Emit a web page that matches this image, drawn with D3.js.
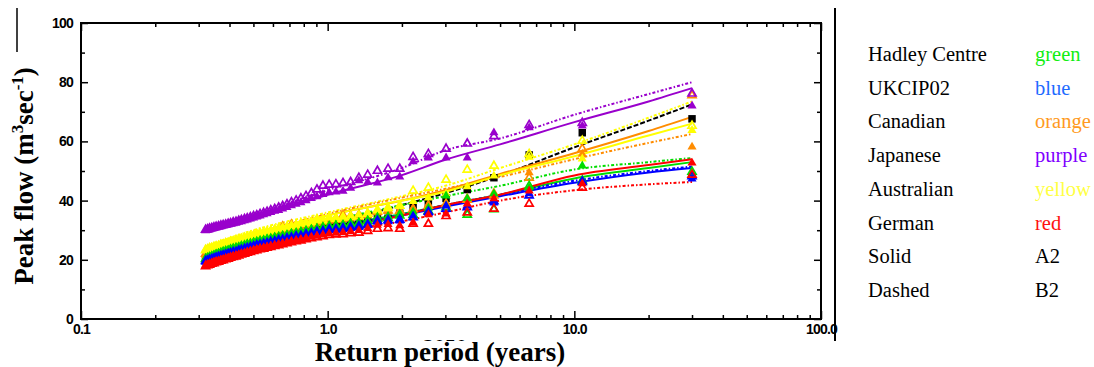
<!DOCTYPE html>
<html>
<head>
<meta charset="utf-8">
<script src="https://cdn.jsdelivr.net/npm/d3@7"></script>
<style>
  body { margin: 0; background: #fff; }
  .tick text { font-family: 'Liberation Sans', Arial, sans-serif; font-weight: bold; font-size: 14px; letter-spacing: -0.8px; fill: #000; }
  .tick line { stroke: #000; stroke-width: 1.5px; }
  .axis path.domain { display: none; }
</style>
</head>
<body>
<div id="chart"></div>
<script>
// return periods (years) of the ranked peaks
const returnPeriods = [30.0, 10.77, 6.56, 4.72, 3.68, 3.02, 2.56, 2.22, 1.96,
  1.757, 1.591, 1.453, 1.338, 1.239, 1.154, 1.080, 1.014,
  0.957, 0.905, 0.859, 0.817, 0.779, 0.745, 0.713, 0.684, 0.657, 0.633,
  0.610, 0.588, 0.568, 0.550, 0.532, 0.516, 0.501, 0.486, 0.472, 0.460,
  0.447, 0.436, 0.425, 0.414, 0.404, 0.395, 0.386, 0.377, 0.369, 0.361,
  0.353, 0.346, 0.339, 0.332, 0.326, 0.320];

// peak flows, A2 = filled triangles, B2 = open triangles
const baselinePeaks = [67.9, 63.2, 55.7, 48.0, 44.0, 41.0, 39.5, 38.0, 36.0,
  34.3, 34.1, 33.0, 32.3, 32.0, 31.6, 31.4, 31.2,
  30.8, 30.4, 30.0, 29.6, 29.2, 28.9, 28.6, 28.2, 27.9, 27.6,
  27.3, 27.0, 26.7, 26.4, 26.2, 25.9, 25.6, 25.3, 25.0, 24.7,
  24.4, 24.1, 23.8, 23.6, 23.3, 23.0, 22.8, 22.5, 22.3, 22.0,
  21.8, 21.6, 21.3, 21.1, 20.9, 20.7];
const orangeB2 = [75.8, 57.8, 48.0, 42.0, 40.5, 39.0, 38.5, 37.3, 36.8,
  36.9, 36.5, 35.8, 35.4, 35.0, 35.3, 34.2, 33.9,
  33.4, 33.1, 32.6, 32.4, 31.9, 31.7, 32.2, 31.0, 31.5, 30.3,
  30.0, 29.6, 29.3, 29.0, 28.6, 28.3, 28.0, 27.7, 27.3, 27.0,
  26.7, 26.4, 26.0, 25.8, 25.4, 25.1, 24.9, 24.5, 24.3, 24.0,
  23.7, 23.5, 23.1, 22.9, 22.6, 22.3];
const orangeA2 = [58.4, 56.0, 49.7, 43.0, 41.2, 39.5, 39.0, 37.8, 36.5,
  36.6, 36.2, 35.3, 34.6, 34.2, 33.9, 33.6, 33.3,
  32.9, 32.5, 32.1, 31.7, 31.3, 31.0, 30.6, 30.3, 29.9, 29.6,
  29.3, 29.0, 28.6, 28.3, 28.0, 27.7, 27.4, 27.0, 26.7, 26.4,
  26.1, 25.8, 25.4, 25.2, 24.8, 24.5, 24.3, 23.9, 23.7, 23.3,
  23.1, 22.9, 22.5, 22.3, 22.0, 21.7];
const yellowA2 = [64.0, 54.4, 55.0, 48.6, 45.0, 42.6, 41.2, 40.0, 38.6,
  37.5, 37.3, 36.2, 35.5, 35.2, 34.8, 34.6, 34.4,
  34.0, 33.6, 33.2, 32.8, 32.4, 32.1, 31.8, 31.4, 31.1, 30.8,
  30.5, 30.2, 29.9, 29.6, 29.4, 29.1, 28.8, 28.5, 28.2, 27.9,
  27.6, 27.3, 27.0, 26.8, 26.5, 26.2, 26.0, 25.7, 25.5, 25.2,
  25.0, 24.8, 24.5, 24.3, 24.1, 23.9];
const yellowB2 = [65.5, 60.5, 56.0, 52.0, 50.7, 47.3, 44.6, 43.6, 38.5,
  37.8, 37.0, 35.8, 35.0, 34.8, 34.5, 34.1, 34.6,
  33.5, 33.9, 32.9, 32.6, 32.5, 31.9, 31.6, 31.3, 30.9, 30.9,
  30.3, 30.0, 29.8, 29.3, 29.3, 28.9, 28.4, 28.3, 27.8, 27.7,
  27.2, 27.1, 26.9, 26.4, 26.3, 25.9, 25.8, 25.4, 25.3, 24.9,
  24.7, 24.6, 24.2, 24.1, 23.7, 23.5];
const greenA2 = [49.3, 52.0, 44.6, 42.6, 41.0, 41.9, 37.8, 36.5, 35.8,
  35.0, 34.8, 33.7, 33.0, 32.7, 32.3, 32.1, 31.9,
  31.5, 31.1, 30.7, 30.3, 29.9, 29.6, 29.3, 28.9, 28.6, 28.3,
  28.0, 27.7, 27.4, 27.1, 26.9, 26.6, 26.3, 26.0, 25.7, 25.4,
  25.1, 24.8, 24.5, 24.3, 24.0, 23.7, 23.5, 23.2, 22.9, 22.6,
  22.3, 22.0, 21.7, 21.4, 21.1, 20.8];
const greenB2 = [50.0, 47.0, 45.2, 37.3, 35.5, 38.0, 36.8, 35.5, 35.2,
  34.4, 34.1, 33.3, 32.4, 32.3, 31.7, 31.7, 31.3,
  31.0, 30.5, 30.3, 29.7, 29.5, 29.0, 28.9, 28.3, 28.2, 27.7,
  27.6, 27.1, 27.0, 26.5, 26.4, 26.0, 25.9, 25.4, 25.3, 24.8,
  24.7, 24.2, 24.1, 23.7, 23.6, 23.1, 23.0, 22.6, 22.4, 22.1,
  21.9, 21.5, 21.3, 21.0, 20.7, 20.5];
const blueA2 = [47.6, 47.0, 42.6, 39.5, 38.5, 38.5, 36.0, 35.0, 33.4,
  33.2, 33.0, 31.9, 31.2, 30.9, 30.5, 30.3, 30.1,
  29.7, 29.3, 28.9, 28.5, 28.1, 27.8, 27.5, 27.1, 26.8, 26.5,
  26.2, 25.9, 25.6, 25.3, 25.1, 24.8, 24.5, 24.2, 23.9, 23.6,
  23.3, 23.0, 22.7, 22.5, 22.2, 21.9, 21.7, 21.4, 21.2, 20.9,
  20.7, 20.5, 20.2, 20.0, 19.8, 19.5];
const blueB2 = [48.5, 46.5, 42.0, 40.0, 38.0, 37.5, 36.5, 34.6, 33.8,
  33.6, 33.4, 32.2, 31.6, 31.2, 30.9, 30.6, 30.5,
  30.0, 29.7, 29.2, 28.9, 28.4, 28.2, 27.8, 27.5, 27.1, 26.9,
  26.5, 26.3, 25.9, 25.7, 25.4, 25.2, 24.8, 24.6, 24.2, 24.0,
  23.6, 23.4, 23.0, 22.9, 22.5, 22.3, 22.0, 21.8, 21.5, 21.3,
  21.0, 20.8, 20.5, 20.3, 20.0, 19.8];
const redA2 = [53.0, 46.0, 43.6, 40.9, 39.2, 35.8, 35.5, 32.8, 31.8,
  32.2, 32.0, 30.9, 30.2, 29.9, 29.5, 29.3, 29.1,
  28.7, 28.3, 27.9, 27.5, 27.1, 26.8, 26.5, 26.1, 25.8, 25.5,
  25.2, 24.9, 24.6, 24.3, 24.1, 23.8, 23.5, 23.2, 22.9, 22.6,
  22.3, 22.0, 21.7, 21.5, 21.2, 20.9, 20.7, 20.4, 20.2, 19.9,
  19.7, 19.5, 19.2, 19.0, 18.8, 18.5];
const redB2 = [49.0, 44.6, 39.2, 37.5, 36.2, 35.0, 32.4, 32.4, 30.7,
  30.9, 30.7, 30.0, 29.4, 29.2, 28.9, 28.8, 28.6,
  28.2, 27.9, 27.5, 27.2, 26.8, 26.5, 26.2, 25.8, 25.5, 25.2,
  24.9, 24.6, 24.3, 24.0, 23.8, 23.5, 23.2, 22.9, 22.6, 22.3,
  22.0, 21.7, 21.4, 21.2, 20.9, 20.6, 20.4, 20.1, 19.9, 19.6,
  19.4, 19.1, 18.9, 18.6, 18.4, 18.1];
const purpleA2 = [72.3, 65.5, 64.9, 63.2, 54.7, 54.7, 54.7, 53.4, 48.3,
  48.0, 46.3, 46.5, 47.0, 44.5, 43.5, 43.2, 43.0,
  42.4, 41.6, 41.0, 40.3, 39.6, 39.1, 38.6, 38.0, 37.5, 37.0,
  36.7, 36.3, 35.9, 35.5, 35.1, 34.8, 34.4, 34.1, 33.8, 33.5,
  33.2, 33.0, 32.7, 32.5, 32.3, 32.1, 31.9, 31.7, 31.5, 31.3,
  31.1, 30.9, 30.7, 30.5, 30.3, 30.1];
const purpleB2 = [76.4, 66.5, 65.8, 62.0, 59.5, 57.8, 56.0, 55.0, 51.0,
  51.0, 50.3, 49.0, 48.0, 46.5, 46.2, 45.8, 45.6,
  45.3, 44.0, 42.8, 41.8, 41.0, 40.3, 39.7, 39.0, 38.4, 37.9,
  37.4, 37.0, 36.5, 36.1, 35.7, 35.3, 35.0, 34.6, 34.3, 34.0,
  33.7, 33.4, 33.1, 32.9, 32.6, 32.4, 32.2, 32.0, 31.8, 31.6,
  31.4, 31.2, 31.0, 30.8, 30.6, 30.4];

// fitted frequency curves
const fitPeriods = [0.32, 0.5, 1, 2, 3, 5, 10, 20, 30];
const purpleA2Fit = [30, 34, 42, 48.6, 53.8, 59, 66.5, 73.5, 78];
const purpleB2Fit = [30.5, 35, 43.5, 51, 57, 61, 69, 76, 80];
const yellowA2Fit = [24, 29, 35, 40, 43, 48.6, 55, 62, 66];
const yellowB2Fit = [24.5, 30, 36, 41.5, 45, 51, 59, 68, 73.5];
const orangeA2Fit = [22.5, 28, 35, 40, 43.5, 49, 56, 63.5, 68.3];
const orangeB2Fit = [22.5, 28.5, 35.5, 41, 44, 48, 54, 59.5, 62.5];
const greenA2Fit = [20.5, 25.5, 31, 35.5, 38.5, 42, 47.5, 51, 53];
const greenB2Fit = [21, 27, 33, 38.5, 41.5, 45, 50.5, 53, 54.4];
const blueA2Fit = [20, 25, 30.5, 35, 38, 41.5, 46, 49.5, 51];
const blueB2Fit = [20, 25, 30.5, 35.3, 38.5, 42, 46.7, 50, 51.5];
const redA2Fit = [19, 24.5, 30, 35, 38.5, 42, 48.5, 52, 54];
const redB2Fit = [18.5, 23.5, 29, 33, 36, 40, 43.5, 45.5, 46.3];
const baselineFit = [21, 26, 32, 38.5, 42.5, 48.5, 58, 67, 72.5];

const yTicks = [0, 20, 40, 60, 80, 100];
const xTicks = [0.1, 1, 10, 100];
const xTickLabels = ['0.1', '1.0', '10.0', '100.0'];
const legendNames = ['Hadley Centre', 'UKCIP02', 'Canadian', 'Japanese', 'Australian', 'German', 'Solid', 'Dashed'];
const legendKeys = ['green', 'blue', 'orange', 'purple', 'yellow', 'red', 'A2', 'B2'];

const col = {
  green: '#00dd00', blue: '#0000ff', orange: '#ff8c00',
  purple: '#9900cc', yellow: '#ffff00', red: '#ff0000', black: '#000'
};
const legendCol = ['#11ee11', '#1f6bff', '#ff9a22', '#7f00ff', '#ffff44', '#ff1111', '#000', '#000'];

const width = 1094;
const height = 367;
const plot = { left: 81, right: 821, top: 23, bottom: 319 };
const serif = "'Liberation Serif', 'Times New Roman', Times, serif";

const svg = d3.select('#chart')
  .append('svg')
  .attr('width', width)
  .attr('height', height);

const x = d3.scaleLog().domain([0.1, 100]).range([plot.left, plot.right]);
const y = d3.scaleLinear().domain([0, 100]).range([plot.bottom, plot.top]);

// fitted lines under the markers
const dots = '3,2,1.5,2';
const fits = [
  [purpleA2Fit, col.purple, null], [purpleB2Fit, col.purple, dots],
  [baselineFit, col.black, '5,2'],
  [yellowB2Fit, col.yellow, dots], [orangeB2Fit, col.orange, dots],
  [orangeA2Fit, col.orange, null], [yellowA2Fit, col.yellow, null],
  [greenB2Fit, col.green, dots], [greenA2Fit, col.green, null],
  [blueB2Fit, col.blue, dots], [blueA2Fit, col.blue, null],
  [redA2Fit, col.red, null], [redB2Fit, col.red, dots]
];

const line = d3.line()
  .x(d => x(d[0]))
  .y(d => y(d[1]))
  .curve(d3.curveMonotoneX);

fits.forEach(function(f) {
  svg.append('path')
    .datum(fitPeriods.map((t, i) => [t, f[0][i]]))
    .attr('d', line)
    .attr('fill', 'none')
    .attr('stroke', f[1])
    .attr('stroke-width', 2)
    .attr('stroke-dasharray', f[2]);
});

// markers
const markerSets = [
  [baselinePeaks, col.black, 'square'],
  [orangeB2, col.orange, 'open'],
  [orangeA2, col.orange, 'filled'],
  [yellowA2, col.yellow, 'filled'],
  [yellowB2, col.yellow, 'open'],
  [greenA2, col.green, 'filled'],
  [greenB2, col.green, 'open'],
  [blueA2, col.blue, 'filled'],
  [blueB2, col.blue, 'open'],
  [redA2, col.red, 'filled'],
  [redB2, col.red, 'open'],
  [purpleA2, col.purple, 'filled'],
  [purpleB2, col.purple, 'open']
];

const tri = d3.symbol().type(d3.symbolTriangle).size(36);
const triOpen = d3.symbol().type(d3.symbolTriangle).size(28);
const sq = d3.symbol().type(d3.symbolSquare).size(56);

markerSets.forEach(function(m) {
  const g = svg.append('g');
  g.selectAll('path')
    .data(returnPeriods.map((t, i) => [t, m[0][i]]))
    .enter()
    .append('path')
    .attr('transform', d => 'translate(' + x(d[0]) + ',' + (y(d[1]) + 0.8) + ')')
    .attr('d', m[2] === 'square' ? sq : (m[2] === 'open' ? triOpen : tri))
    .attr('fill', m[2] === 'open' ? 'none' : m[1])
    .attr('stroke', m[2] === 'open' ? m[1] : 'none')
    .attr('stroke-width', 1.7);
});

// axes: ticks pointing inward
const minorX = [0.2, 0.3, 0.4, 0.5, 0.6, 0.7, 0.8, 0.9, 2, 3, 4, 5, 6, 7, 8, 9, 20, 30, 40, 50, 60, 70, 80, 90];
const minorY = [10, 30, 50, 70, 90];

svg.append('g').attr('class', 'axis')
  .attr('transform', 'translate(0,' + plot.bottom + ')')
  .call(d3.axisBottom(x).tickValues(xTicks).tickSize(-8).tickPadding(5)
    .tickFormat((d, i) => xTickLabels[i]));
svg.append('g').attr('class', 'axis')
  .attr('transform', 'translate(0,' + plot.bottom + ')')
  .call(d3.axisBottom(x).tickValues(minorX).tickSize(-4).tickFormat(''));
svg.append('g').attr('class', 'axis')
  .attr('transform', 'translate(0,' + plot.top + ')')
  .call(d3.axisTop(x).tickValues(xTicks).tickSize(-8).tickFormat(''));
svg.append('g').attr('class', 'axis')
  .attr('transform', 'translate(0,' + plot.top + ')')
  .call(d3.axisTop(x).tickValues(minorX).tickSize(-4).tickFormat(''));

svg.append('g').attr('class', 'axis')
  .attr('transform', 'translate(' + plot.left + ',0)')
  .call(d3.axisLeft(y).tickValues(yTicks).tickSize(-7).tickPadding(8));
svg.append('g').attr('class', 'axis')
  .attr('transform', 'translate(' + plot.left + ',0)')
  .call(d3.axisLeft(y).tickValues(minorY).tickSize(-4).tickFormat(''));
svg.append('g').attr('class', 'axis')
  .attr('transform', 'translate(' + plot.right + ',0)')
  .call(d3.axisRight(y).tickValues(yTicks).tickSize(-7).tickFormat(''));
svg.append('g').attr('class', 'axis')
  .attr('transform', 'translate(' + plot.right + ',0)')
  .call(d3.axisRight(y).tickValues(minorY).tickSize(-4).tickFormat(''));

svg.append('rect')
  .attr('x', plot.left)
  .attr('y', plot.top)
  .attr('width', plot.right - plot.left)
  .attr('height', plot.bottom - plot.top)
  .attr('fill', 'none')
  .attr('stroke', '#000')
  .attr('stroke-width', 2);

// stray rules
svg.append('line')
  .attr('x1', 17).attr('x2', 17).attr('y1', 8).attr('y2', 52)
  .attr('stroke', '#000').attr('stroke-width', 1.5);
svg.append('line')
  .attr('x1', 835).attr('x2', 835).attr('y1', 8).attr('y2', 341)
  .attr('stroke', '#000').attr('stroke-width', 2);

// titles; "2050" is mostly hidden behind the axis title, only its top shows
svg.append('clipPath').attr('id', 'cut')
  .append('rect').attr('x', 400).attr('y', 330).attr('width', 100).attr('height', 11);
svg.append('text')
  .attr('clip-path', 'url(#cut)')
  .attr('x', 445)
  .attr('y', 354)
  .attr('text-anchor', 'middle')
  .style('font-family', serif)
  .style('font-weight', 'bold')
  .style('font-size', '22px')
  .text('2050');

svg.append('text')
  .attr('x', 440)
  .attr('y', 361)
  .attr('text-anchor', 'middle')
  .style('font-family', serif)
  .style('font-weight', 'bold')
  .style('font-size', '27px')
  .text('Return period (years)');

const yTitle = svg.append('text')
  .attr('transform', 'translate(33,176) rotate(-90)')
  .attr('text-anchor', 'middle')
  .style('font-family', serif)
  .style('font-weight', 'bold')
  .style('font-size', '27px');
yTitle.append('tspan').text('Peak flow (m');
yTitle.append('tspan').attr('dy', -10).style('font-size', '17px').text('3');
yTitle.append('tspan').attr('dy', 10).text('sec');
yTitle.append('tspan').attr('dy', -10).style('font-size', '17px').text('-1');
yTitle.append('tspan').attr('dy', 10).text(')');

// legend (text only)
const legend = svg.append('g')
  .style('font-family', serif)
  .style('font-size', '20.5px');
legendNames.forEach(function(name, i) {
  const yy = 61 + i * 33.7;
  legend.append('text').attr('x', 868).attr('y', yy).attr('fill', '#000').text(name);
  legend.append('text').attr('x', 1035).attr('y', yy).attr('fill', legendCol[i]).text(legendKeys[i]);
});
</script>
</body>
</html>
